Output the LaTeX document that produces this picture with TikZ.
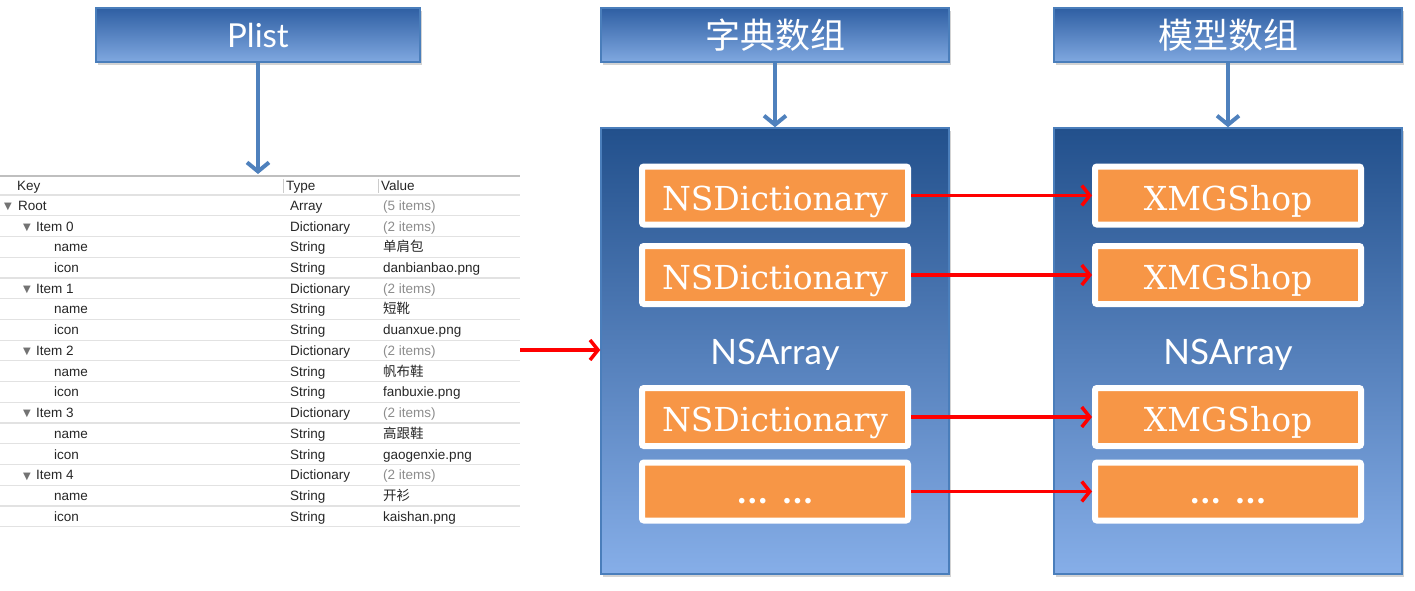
\documentclass[tikz,border=0pt]{standalone}
\usepackage{fontspec}
\setmainfont{Liberation Sans}
\newfontfamily\cjk{Noto Sans CJK SC}
\newfontfamily\slab{DejaVu Serif}
\newfontfamily\thin{Lato}
\newfontfamily\sym{DejaVu Sans}
\usetikzlibrary{arrows.meta,shadows}

\definecolor{headtop}{HTML}{2F5FA3}
\definecolor{headbot}{HTML}{80A8E0}
\definecolor{paneltop}{HTML}{22508C}
\definecolor{panelbot}{HTML}{86AEE8}
\definecolor{frame}{HTML}{4A7EBB}
\definecolor{shop}{HTML}{F79646}
\definecolor{link}{HTML}{4F81BD}
\definecolor{rule}{HTML}{E2E2E2}

\tikzset{
  head/.style={draw=frame, line width=1.5, top color=headtop, bottom color=headbot,
    minimum width=324, minimum height=54, text=white,
    drop shadow={opacity=0.35, shadow xshift=2pt, shadow yshift=-3pt}},
  panel/.style={draw=frame, line width=1.5, top color=paneltop, bottom color=panelbot,
    minimum width=348, minimum height=446,
    drop shadow={opacity=0.35, shadow xshift=2pt, shadow yshift=-3pt}},
  item/.style={draw=white, line width=6, fill=shop, rounded corners=2,
    minimum width=266, minimum height=58, text=white, text height=29, text depth=0,
    font=\slab\fontsize{33}{33}\selectfont},
  dots/.style={item, font=\slab\bfseries\fontsize{30}{30}\selectfont},
  down/.style={draw=link, line width=4, -{Straight Barb[length=9pt,width=22pt]}},
  map/.style={draw=red, line width=3.5, -{Straight Barb[length=8pt,width=20pt]}},
  cell/.style={anchor=base west, inner sep=0, font=\fontsize{13.5}{14}\selectfont, text=black!85}
}

\begin{document}
\begin{tikzpicture}[x=1pt, y=-1pt]
  \useasboundingbox (0,0) rectangle (1415,590);

  % headers
  \node[head, font=\thin\fontsize{33}{33}\selectfont] (plist) at (258,35) {Plist};
  \node[head, minimum width=348, font=\cjk\fontsize{35}{35}\selectfont] (dicthead) at (775,35) {字典数组};
  \node[head, minimum width=348, font=\cjk\fontsize{35}{35}\selectfont] (modelhead) at (1228,35) {模型数组};

  % plist table
  \coordinate (tabletop) at (258,174);
  \draw[down] (plist.south) -- (tabletop);
  \draw[black!25, line width=2] (0,176) -- (520,176);
  \draw[black!20] (283,179) -- (283,193) (378,179) -- (378,193);
  \node[cell] (keyhead) at (17,190) {Key};
  \node[cell] (typehead) at (286,190) {Type};
  \node[cell] (valhead) at (381,190) {Value};
  \foreach \lvl/\k/\t/\v [count=\i from 0] in {
      0/Root/Array/(5 items),
      1/Item 0/Dictionary/(2 items), 2/name/String/{\cjk 单肩包}, 2/icon/String/danbianbao.png,
      1/Item 1/Dictionary/(2 items), 2/name/String/{\cjk 短靴}, 2/icon/String/duanxue.png,
      1/Item 2/Dictionary/(2 items), 2/name/String/{\cjk 帆布鞋}, 2/icon/String/fanbuxie.png,
      1/Item 3/Dictionary/(2 items), 2/name/String/{\cjk 高跟鞋}, 2/icon/String/gaogenxie.png,
      1/Item 4/Dictionary/(2 items), 2/name/String/{\cjk 开衫}, 2/icon/String/kaishan.png} {
    \draw[rule, line width=1.2] (0,195+20.73*\i) -- (520,195+20.73*\i);
    \node[cell] (key\i) at (18+18*\lvl,210.3+20.73*\i) {\k};
    \ifnum\lvl<2
      \node[cell, text=black!55, font=\sym\fontsize{10}{10}\selectfont] (fold\i) at (4+19*\lvl,209.5+20.73*\i) {▼};
      \node[cell, text=black!45] (val\i) at (383,210.3+20.73*\i) {\v};
    \else
      \node[cell] (val\i) at (383,210.3+20.73*\i) {\v};
    \fi
    \node[cell] (type\i) at (290,210.3+20.73*\i) {\t};
  }
  \draw[rule, line width=1.2] (0,526.7) -- (520,526.7);
  \coordinate (tableR) at (520,350);

  % dictionary array
  \node[panel] (dict) at (775,351) {};
  \draw[down] (dicthead.south) -- (dict.north);
  \node[text=white, font=\thin\fontsize{35}{35}\selectfont] (dictlbl) at (775,355) {NSArray};
  \node[item] (d1) at (775,195.5) {NSDictionary};
  \node[item] (d2) at (775,275) {NSDictionary};
  \node[item] (d3) at (775,417) {NSDictionary};
  \node[dots] (d4) at (775,491.5) {\raisebox{3pt}{... ...}};
  \draw[map] (tableR) -- (tableR -| dict.west);

  % model array
  \node[panel] (model) at (1228,351) {};
  \draw[down] (modelhead.south) -- (model.north);
  \node[text=white, font=\thin\fontsize{35}{35}\selectfont] (modellbl) at (1228,355) {NSArray};
  \node[item] (m1) at (1228,195.5) {XMGShop};
  \node[item] (m2) at (1228,275) {XMGShop};
  \node[item] (m3) at (1228,417) {XMGShop};
  \node[dots] (m4) at (1228,491.5) {\raisebox{3pt}{... ...}};

  \draw[map] (d1.east) -- (m1.west);
  \draw[map] (d2.east) -- (m2.west);
  \draw[map] (d3.east) -- (m3.west);
  \draw[map] (d4.east) -- (m4.west);
\end{tikzpicture}
\end{document}
